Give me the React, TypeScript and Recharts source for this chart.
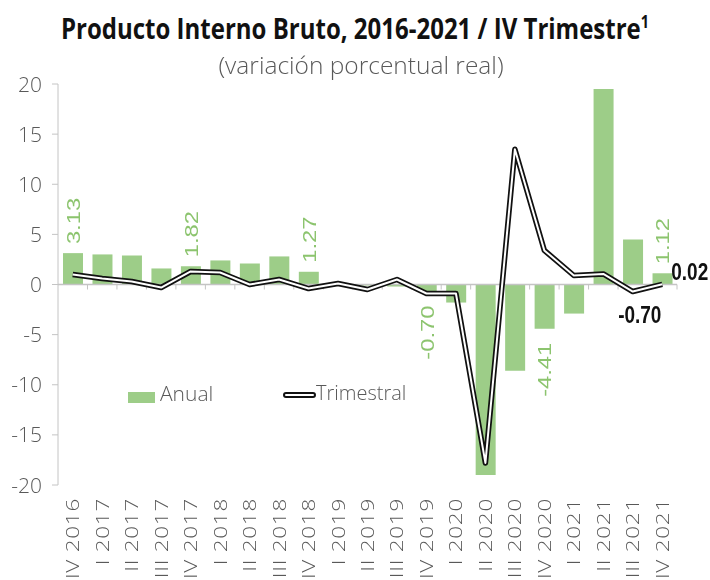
import { Bar, ComposedChart, LabelList, Line, ReferenceLine, XAxis, YAxis } from 'recharts'

// PIB, variación porcentual real
const quarters = [
  'IV 2016', 'I 2017', 'II 2017', 'III 2017', 'IV 2017', 'I 2018', 'II 2018',
  'III 2018', 'IV 2018', 'I 2019', 'II 2019', 'III 2019', 'IV 2019', 'I 2020',
  'II 2020', 'III 2020', 'IV 2020', 'I 2021', 'II 2021', 'III 2021', 'IV 2021',
]
const anual = [
  3.13, 3.0, 2.9, 1.6, 1.82, 2.4, 2.1, 2.8, 1.27, 0.1, -0.1, -0.2, -0.7, -1.8,
  -19.0, -8.6, -4.41, -2.9, 19.5, 4.5, 1.12,
]
const trimestral = [
  1.0, 0.6, 0.3, -0.3, 1.3, 1.2, 0.0, 0.5, -0.4, 0.1, -0.5, 0.5, -0.9, -0.9,
  -17.8, 13.5, 3.4, 0.9, 1.05, -0.7, 0.02,
]
const yTicks = [-20, -15, -10, -5, 0, 5, 10, 15, 20]
// which points carry a value label
const anualLabelAt = [0, 4, 8, 12, 16, 20]
const trimLabelAt = [19, 20]

const data = quarters.map((q, i) => ({ q, anual: anual[i], trimestral: trimestral[i] }))

const GREEN = '#9dcd88'
const GREEN_TEXT = '#8cc46e'
const GREY = '#595959'
const AXIS = '#c4c4c4'
const SANS = '"Open Sans", sans-serif'
const ARIAL = '"Liberation Sans", Arial, sans-serif'

function YTick({ x, y, payload }: any) {
  return (
    <text x={x} y={y} dy="0.36em" textAnchor="end" fill={GREY} fontSize={21} fontWeight={300} fontFamily={SANS}>
      {payload.value}
    </text>
  )
}

function XTick({ x, y, payload }: any) {
  return (
    <text
      transform={`translate(${x},${y + 5}) rotate(-90) scale(1.25,1)`}
      dy="0.36em"
      textAnchor="end"
      fill={GREY}
      fontSize={18}
      fontWeight={300}
      letterSpacing={0.6}
      fontFamily={SANS}
    >
      {payload.value}
    </text>
  )
}

// axis at zero with small ticks between the quarters
function ZeroAxis(props: any) {
  const { x1, x2, y1 } = props
  const step = (x2 - x1) / quarters.length
  return (
    <g>
      <line x1={x1} x2={x2} y1={y1} y2={y1} stroke={AXIS} strokeWidth={1.5} />
      {quarters.map((_, i) => (
        <line key={i} x1={x1 + step * (i + 1)} x2={x1 + step * (i + 1)} y1={y1} y2={y1 + 5} stroke={AXIS} />
      ))}
    </g>
  )
}

function AnualLabel({ x, y, width, height, value, index }: any) {
  if (!anualLabelAt.includes(index)) return null
  const cx = x + width / 2
  const top = Math.min(y, y + height)
  const bottom = Math.max(y, y + height)
  const pos = value >= 0
  const ty = pos ? top - 9 : bottom + 14
  return (
    <text
      transform={`translate(${cx},${ty}) rotate(-90) scale(1.25,1)`}
      dy="0.36em"
      textAnchor={pos ? 'start' : 'end'}
      fill={GREEN_TEXT}
      fontSize={19}
      fontWeight={400}
      fontFamily={ARIAL}
    >
      {value.toFixed(2)}
    </text>
  )
}

function TrimLabel({ x, y, value, index }: any) {
  if (!trimLabelAt.includes(index)) return null
  const below = value < 0
  return (
    <text
      transform={`translate(${below ? x + 7 : x + 9},${below ? y + 31 : y - 4}) scale(1,1.25)`}
      textAnchor={below ? 'middle' : 'start'}
      fill="#111"
      fontSize={19}
      fontWeight={700}
      fontFamily={ARIAL}
    >
      {value.toFixed(2)}
    </text>
  )
}

export default function App() {
  return (
    <div style={{ position: 'fixed', left: 0, top: 0, width: 710, height: 620, background: '#fff', fontFamily: SANS }}>
      <div
        style={{
          position: 'absolute', left: 0, top: 16, width: 710, textAlign: 'center',
          fontSize: 24, fontWeight: 700, color: '#111', lineHeight: 1, transform: 'scaleY(1.2)',
        }}
      >
        Producto Interno Bruto, 2016-2021 / IV Trimestre<sup style={{ fontSize: '0.6em' }}>1</sup>
      </div>
      <div
        style={{
          position: 'absolute', left: 6, top: 53, width: 710, textAlign: 'center',
          fontSize: 24.5, fontWeight: 300, color: GREY, lineHeight: 1,
        }}
      >
        (variación porcentual real)
      </div>

      <ComposedChart width={710} height={620} data={data} margin={{ top: 84, right: 33, bottom: 0, left: 0 }}>
        <XAxis dataKey="q" height={135} interval={0} axisLine={false} tickLine={false} tick={<XTick />} />
        <YAxis
          width={58}
          domain={[-20, 20]}
          ticks={yTicks}
          interval={0}
          tickSize={6}
          tickMargin={10}
          axisLine={{ stroke: AXIS }}
          tickLine={{ stroke: AXIS }}
          tick={<YTick />}
        />
        <Bar dataKey="anual" fill={GREEN} barSize={20} isAnimationActive={false}>
          <LabelList dataKey="anual" content={<AnualLabel />} />
        </Bar>
        <ReferenceLine y={0} shape={<ZeroAxis />} />
        <Line dataKey="trimestral" type="linear" stroke="#111" strokeWidth={5.5} strokeLinejoin="round" dot={false} isAnimationActive={false} />
        <Line dataKey="trimestral" type="linear" stroke="#fff" strokeWidth={2} strokeLinejoin="round" dot={false} isAnimationActive={false}>
          <LabelList dataKey="trimestral" content={<TrimLabel />} />
        </Line>
      </ComposedChart>

      {/* leyenda */}
      <div style={{ position: 'absolute', left: 128, top: 392, width: 27, height: 11, background: GREEN }} />
      <div style={{ position: 'absolute', left: 160, top: 380, fontSize: 21, fontWeight: 300, color: GREY, lineHeight: '26px' }}>
        Anual
      </div>
      <div
        style={{
          position: 'absolute', left: 283, top: 392, width: 29, height: 2, border: '2px solid #111',
          borderRadius: 3, background: '#fff',
        }}
      />
      <div style={{ position: 'absolute', left: 316, top: 380, fontSize: 20, fontWeight: 300, color: GREY, lineHeight: '26px' }}>
        Trimestral
      </div>
    </div>
  )
}
